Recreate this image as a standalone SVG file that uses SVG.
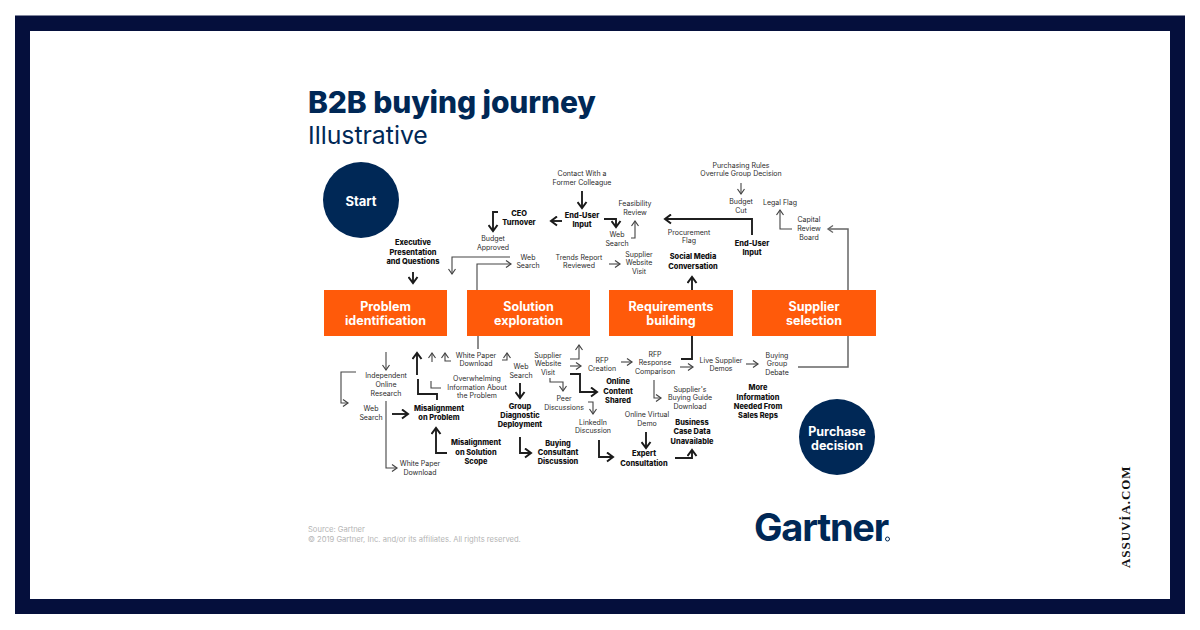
<svg xmlns="http://www.w3.org/2000/svg" width="1200" height="630" viewBox="0 0 1200 630">
<defs>
<marker id="a" markerWidth="8" markerHeight="10" refX="6" refY="4" orient="auto" markerUnits="userSpaceOnUse" viewBox="0 0 8 8"><path d="M1 0.500L6 4L1 7.500" fill="none" stroke="#444" stroke-width="1.2"/></marker>
<marker id="b" markerWidth="9" markerHeight="11" refX="7" refY="5" orient="auto" markerUnits="userSpaceOnUse" viewBox="0 0 9 10"><path d="M1 0.500L7 5L1 9.500" fill="none" stroke="#1a1a1a" stroke-width="2"/></marker>
<marker id="c" markerWidth="8" markerHeight="10" refX="6" refY="4" orient="auto" markerUnits="userSpaceOnUse" viewBox="0 0 8 8"><path d="M1 0.500L6 4L1 7.500" fill="none" stroke="#666" stroke-width="1.4"/></marker>
</defs>
<style>
.t{font-family:"Inter","Liberation Sans",sans-serif;font-size:7px;fill:#2b2b2b;text-anchor:middle}
.h{font-family:"Inter","Liberation Sans",sans-serif;font-size:7.4px;font-weight:800;fill:#111;text-anchor:middle}
.n{font-family:"Inter","Liberation Sans",sans-serif;font-size:12.5px;font-weight:700;fill:#fff;text-anchor:middle}
.c{font-family:"Inter","Liberation Sans",sans-serif;font-size:13px;font-weight:700;fill:#fff;text-anchor:middle}
.l{fill:none;stroke:#444;stroke-width:1.1;marker-end:url(#a)}
.p{fill:none;stroke:#444;stroke-width:1.1}
.k{fill:none;stroke:#1f1f1f;stroke-width:1.9;marker-end:url(#b)}
.q{fill:none;stroke:#1f1f1f;stroke-width:1.9}
.g{fill:none;stroke:#666;stroke-width:1.5}
.o{fill:#ff5a0a}
.d{fill:#002856}
</style>
<rect width="1200" height="630" fill="#fff"/>
<path fill="#050f3c" fill-rule="evenodd" d="M15 15.500H1185V614H15ZM30 31V599H1170V31Z"/>
<text x="308" y="113" font-family="Inter,'Liberation Sans',sans-serif" font-size="30" font-weight="800" fill="#002856" letter-spacing="-0.1">B2B buying journey</text>
<text x="308" y="144" font-family="Inter,'Liberation Sans',sans-serif" font-size="24.800" fill="#002856">Illustrative</text>

<g id="start"><circle class="d" cx="361" cy="200" r="38"/><text class="c" x="361" y="205.500">Start</text></g>
<g id="purchase"><circle class="d" cx="837" cy="437" r="38"/><text class="n" x="837" y="435.500">Purchase</text><text class="n" x="837" y="449.500">decision</text></g>
<g id="problem"><rect class="o" x="324" y="290" width="123" height="46"/><text class="n" x="385.500" y="311">Problem</text><text class="n" x="385.500" y="325">identification</text></g>
<g id="solution"><rect class="o" x="467" y="290" width="123" height="46"/><text class="n" x="528.500" y="311">Solution</text><text class="n" x="528.500" y="325">exploration</text></g>
<g id="requirements"><rect class="o" x="609" y="290" width="124" height="46"/><text class="n" x="671" y="311">Requirements</text><text class="n" x="671" y="325">building</text></g>
<g id="supplier"><rect class="o" x="752" y="290" width="124" height="46"/><text class="n" x="814" y="311">Supplier</text><text class="n" x="814" y="325">selection</text></g>

<g id="connectors">
<path class="k" d="M413 272V283"/>
<path class="k" d="M498 212H493V231"/>
<path class="k" d="M582 191V208"/>
<path class="k" d="M562 221H551"/>
<path class="l" d="M510 257H452V274"/>
<path class="l" d="M477 290V264H511"/>
<path class="k" d="M604 219H616V227"/>
<path class="l" d="M631 238H635V221"/>
<path class="l" d="M609 264H620"/>
<path class="k" d="M752 235V219H665"/>
<path class="l" d="M741 183V194"/>
<path class="l" d="M792 229H780V210"/>
<path class="k" d="M692 290V277"/>
<path class="g" d="M848 290V229H828" marker-end="url(#c)"/>

<path class="l" d="M386 352V370"/>
<path class="l" d="M356 372H341V403H348"/>
<path class="l" d="M386 401V468H397"/>
<path class="k" d="M392 414H408"/>
<path class="k" d="M417 375V353"/>
<path class="q" d="M437 400V394H418V379"/>
<path class="k" d="M447 453H436V428"/>
<path class="l" d="M432 362V353"/>
<path class="l" d="M451 361H445V353"/>
<path class="g" d="M478 336V349"/>
<path class="l" d="M502 360H507V353"/>
<path class="p" d="M431 381V388H441"/>
<path class="l" d="M570 359H579V345"/>
<path class="l" d="M570 366H581"/>
<path class="k" d="M570 374H580V392H597"/>
<path class="l" d="M550 378V382H563V391"/>
<path class="l" d="M588 402H593V414"/>
<path class="k" d="M520 383V398"/>
<path class="k" d="M520 437V453H531"/>
<path class="k" d="M599 440V457H613"/>
<path class="k" d="M646 432V448"/>
<path class="k" d="M675 458H692V450"/>
<path class="l" d="M621 362H632"/>
<path class="l" d="M680 367H693"/>
<path class="l" d="M746 364H758"/>
<path class="l" d="M654 380V398H661"/>
<path class="q" d="M681 359H692V336"/>
<path class="g" d="M798 367H848V336"/>
</g>

<g id="labels" transform="translate(0 0.400)">
<text class="t" x="582" y="176">Contact With a</text><text class="t" x="582" y="185">Former Colleague</text>
<text class="h" x="582" y="218">End-User</text><text class="h" x="582" y="227">Input</text>
<text class="h" x="519" y="216">CEO</text><text class="h" x="519" y="225">Turnover</text>
<text class="t" x="493" y="241">Budget</text><text class="t" x="493" y="250">Approved</text>
<text class="t" x="528" y="260">Web</text><text class="t" x="528" y="268">Search</text>
<text class="t" x="579" y="260">Trends Report</text><text class="t" x="579" y="268">Reviewed</text>
<text class="t" x="635" y="206">Feasibility</text><text class="t" x="635" y="215">Review</text>
<text class="t" x="617" y="237">Web</text><text class="t" x="617" y="246">Search</text>
<text class="t" x="639" y="257">Supplier</text><text class="t" x="639" y="265">Website</text><text class="t" x="639" y="274">Visit</text>
<text class="t" x="689" y="235">Procurement</text><text class="t" x="689" y="243">Flag</text>
<text class="h" x="693" y="259">Social Media</text><text class="h" x="693" y="269">Conversation</text>
<text class="h" x="752" y="246">End-User</text><text class="h" x="752" y="255">Input</text>
<text class="t" x="741" y="168">Purchasing Rules</text><text class="t" x="741" y="176">Overrule Group Decision</text>
<text class="t" x="741" y="204">Budget</text><text class="t" x="741" y="213">Cut</text>
<text class="t" x="780" y="205">Legal Flag</text>
<text class="t" x="809" y="222">Capital</text><text class="t" x="809" y="231">Review</text><text class="t" x="809" y="240">Board</text>
<text class="h" x="413" y="245">Executive</text><text class="h" x="413" y="255">Presentation</text><text class="h" x="413" y="264">and Questions</text>

<text class="t" x="386" y="378">Independent</text><text class="t" x="386" y="387">Online</text><text class="t" x="386" y="396">Research</text>
<text class="t" x="371" y="411">Web</text><text class="t" x="371" y="420">Search</text>
<text class="h" x="439" y="411">Misalignment</text><text class="h" x="439" y="420">on Problem</text>
<text class="t" x="476" y="358">White Paper</text><text class="t" x="476" y="366">Download</text>
<text class="t" x="477" y="381">Overwhelming</text><text class="t" x="477" y="390">Information About</text><text class="t" x="477" y="398">the Problem</text>
<text class="h" x="476" y="445">Misalignment</text><text class="h" x="476" y="455">on Solution</text><text class="h" x="476" y="464">Scope</text>
<text class="t" x="420" y="466">White Paper</text><text class="t" x="420" y="475">Download</text>
<text class="t" x="521" y="369">Web</text><text class="t" x="521" y="378">Search</text>
<text class="h" x="520" y="409">Group</text><text class="h" x="520" y="418">Diagnostic</text><text class="h" x="520" y="427">Deployment</text>
<text class="h" x="558" y="446">Buying</text><text class="h" x="558" y="455">Consultant</text><text class="h" x="558" y="464">Discussion</text>
<text class="t" x="548" y="358">Supplier</text><text class="t" x="548" y="366">Website</text><text class="t" x="548" y="375">Visit</text>
<text class="t" x="564" y="401">Peer</text><text class="t" x="564" y="410">Discussions</text>
<text class="t" x="593" y="425">LinkedIn</text><text class="t" x="593" y="433">Discussion</text>
<text class="t" x="602" y="363">RFP</text><text class="t" x="602" y="371">Creation</text>
<text class="h" x="618" y="384">Online</text><text class="h" x="618" y="394">Content</text><text class="h" x="618" y="403">Shared</text>
<text class="t" x="655" y="357">RFP</text><text class="t" x="655" y="365">Response</text><text class="t" x="655" y="374">Comparison</text>
<text class="t" x="690" y="392">Supplier's</text><text class="t" x="690" y="400">Buying Guide</text><text class="t" x="690" y="409">Download</text>
<text class="t" x="647" y="417">Online Virtual</text><text class="t" x="647" y="426">Demo</text>
<text class="h" x="692" y="425">Business</text><text class="h" x="692" y="434">Case Data</text><text class="h" x="692" y="444">Unavailable</text>
<text class="h" x="644" y="456">Expert</text><text class="h" x="644" y="466">Consultation</text>
<text class="t" x="721" y="363">Live Supplier</text><text class="t" x="721" y="371">Demos</text>
<text class="t" x="777" y="358">Buying</text><text class="t" x="777" y="366">Group</text><text class="t" x="777" y="375">Debate</text>
<text class="h" x="758" y="390">More</text><text class="h" x="758" y="400">Information</text><text class="h" x="758" y="409">Needed From</text><text class="h" x="758" y="418">Sales Reps</text>
</g>

<text x="308" y="532" font-family="Inter,'Liberation Sans',sans-serif" font-size="7.600" fill="#b5b5b5">Source: Gartner</text>
<text x="308" y="542" font-family="Inter,'Liberation Sans',sans-serif" font-size="7.600" fill="#b5b5b5">© 2019 Gartner, Inc. and/or its affiliates. All rights reserved.</text>
<text x="754" y="541" font-family="Inter,'Liberation Sans',sans-serif" font-size="38" font-weight="700" letter-spacing="-1.200" fill="#002856">Gartner</text>
<circle cx="887.500" cy="539" r="2" fill="none" stroke="#002856" stroke-width="1"/>
<text transform="translate(1130 568) rotate(-90)" font-family="'Liberation Serif',serif" font-size="13" font-weight="700" letter-spacing="0.950" fill="#111">ASSUVİA.COM</text>
</svg>
